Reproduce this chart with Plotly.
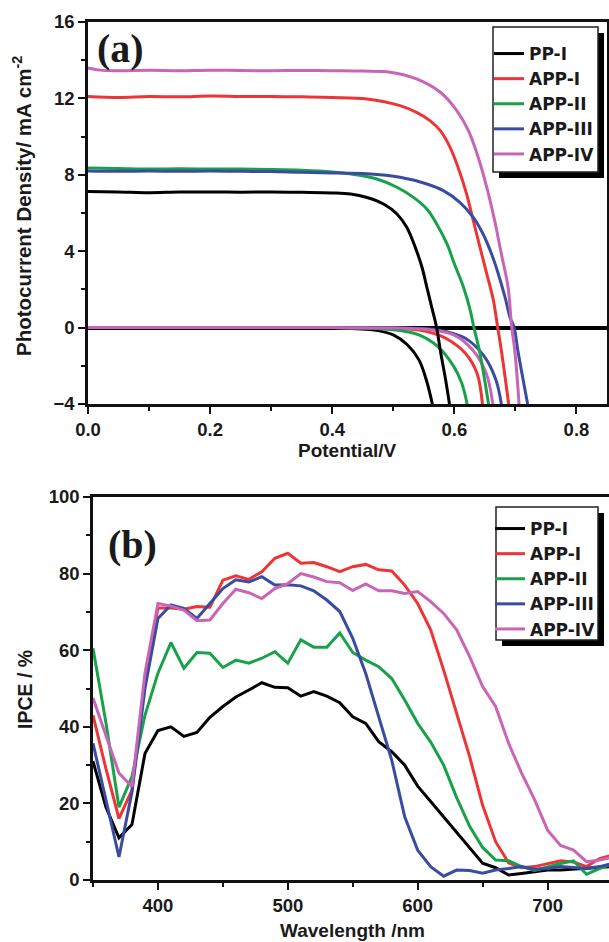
import plotly.graph_objects as go

W, H = 609, 942

names = ["PP-I", "APP-I", "APP-II", "APP-III", "APP-IV"]
colors = ["#000000", "#ee3535", "#17a24a", "#3a4ba2", "#c965b6"]

# ---------- (a) J-V curves: illuminated ----------
v_light_pp1 = [0, 0.05, 0.10, 0.15, 0.20, 0.25, 0.30, 0.35, 0.40, 0.43, 0.457, 0.484, 0.506, 0.522, 0.536, 0.547, 0.555, 0.563, 0.571, 0.577, 0.585, 0.592]
j_light_pp1 = [7.12, 7.10, 7.06, 7.10, 7.10, 7.09, 7.10, 7.08, 7.05, 6.99, 6.81, 6.47, 5.95, 5.25, 4.2, 3.16, 2.11, 1.06, 0.0, -1.2, -2.6, -4.0]

v_light_app1 = [0, 0.05, 0.10, 0.15, 0.20, 0.25, 0.30, 0.35, 0.40, 0.457, 0.511, 0.538, 0.56, 0.577, 0.593, 0.606, 0.62, 0.631, 0.642, 0.653, 0.664, 0.671, 0.677, 0.689]
j_light_app1 = [12.1, 12.05, 12.1, 12.08, 12.12, 12.1, 12.1, 12.08, 12.05, 11.97, 11.62, 11.27, 10.84, 10.31, 9.44, 8.4, 7.0, 5.6, 4.2, 2.83, 1.41, 0.0, -1.2, -4.0]

v_light_app2 = [0, 0.05, 0.10, 0.15, 0.20, 0.25, 0.30, 0.35, 0.40, 0.429, 0.473, 0.506, 0.533, 0.555, 0.571, 0.588, 0.60, 0.615, 0.626, 0.632, 0.641, 0.656]
j_light_app2 = [8.35, 8.33, 8.3, 8.32, 8.3, 8.3, 8.28, 8.24, 8.15, 8.05, 7.78, 7.35, 6.82, 6.21, 5.43, 4.38, 3.34, 2.11, 0.9, 0.0, -1.2, -4.0]

v_light_app3 = [0, 0.05, 0.10, 0.15, 0.20, 0.25, 0.30, 0.35, 0.40, 0.457, 0.511, 0.555, 0.582, 0.609, 0.631, 0.647, 0.661, 0.672, 0.683, 0.691, 0.698, 0.704, 0.72]
j_light_app3 = [8.2, 8.18, 8.2, 8.18, 8.2, 8.18, 8.17, 8.13, 8.1, 8.05, 7.87, 7.52, 7.17, 6.56, 5.77, 4.9, 3.85, 2.81, 1.59, 0.55, 0.0, -1.2, -4.0]

v_light_app4 = [0, 0.02, 0.05, 0.10, 0.15, 0.20, 0.25, 0.30, 0.35, 0.40, 0.45, 0.495, 0.538, 0.577, 0.604, 0.623, 0.639, 0.653, 0.666, 0.677, 0.688, 0.694, 0.699, 0.706]
j_light_app4 = [13.6, 13.48, 13.45, 13.47, 13.45, 13.48, 13.46, 13.45, 13.46, 13.45, 13.43, 13.37, 13.02, 12.32, 11.36, 10.31, 8.92, 7.35, 5.6, 3.86, 2.11, 0.0, -1.2, -4.0]

# ---------- (a) J-V curves: dark ----------
v_dark_pp1 = [0, 0.1, 0.2, 0.3, 0.4, 0.43, 0.466, 0.5, 0.523, 0.542, 0.554, 0.564]
j_dark_pp1 = [0, 0, 0, 0, -0.02, -0.05, -0.12, -0.38, -0.9, -1.69, -2.73, -4.0]

v_dark_app1 = [0, 0.1, 0.2, 0.3, 0.4, 0.48, 0.542, 0.566, 0.586, 0.618, 0.637, 0.646]
j_dark_app1 = [0, 0, 0, 0, 0, -0.02, -0.12, -0.3, -0.56, -1.34, -2.38, -4.0]

v_dark_app2 = [0, 0.1, 0.2, 0.3, 0.4, 0.45, 0.491, 0.52, 0.542, 0.573, 0.599, 0.612, 0.621]
j_dark_app2 = [0, 0, 0, 0, 0, -0.02, -0.09, -0.2, -0.38, -0.99, -2.03, -2.9, -4.0]

v_dark_app3 = [0, 0.1, 0.2, 0.3, 0.4, 0.52, 0.573, 0.618, 0.649, 0.668, 0.677]
j_dark_app3 = [0, 0, 0, 0, 0, -0.02, -0.12, -0.56, -1.51, -2.73, -4.0]

v_dark_app4 = [0, 0.1, 0.2, 0.3, 0.4, 0.5, 0.554, 0.599, 0.63, 0.652, 0.663]
j_dark_app4 = [0, 0, 0, 0, 0, -0.02, -0.09, -0.38, -1.17, -2.38, -4.0]

# ---------- (b) IPCE ----------
wavelength = list(range(350, 751, 10))
ipce_pp1 = [31, 19, 11, 14.5, 33, 39, 40, 37.5, 38.5, 42.5, 45.3, 47.8, 49.6, 51.5, 50.3, 50.2, 48, 49.2, 48, 46.3,
            42.6, 40.9, 36.1, 33.5, 30, 24.5, 20.5, 16.4, 12.3, 8.3, 4.4, 3.2, 1.3, 1.7, 2.2, 2.6, 2.6, 2.8, 3.0, 3.3, 3.5]
ipce_app1 = [43, 29, 16, 23.5, 52, 71, 71, 70.7, 71.4, 71.2, 78.3, 79.4, 78.5, 80.5, 84, 85.3, 82.7, 82.9, 81.8, 80.5,
             81.8, 82.4, 81, 80.7, 77, 72.2, 65.3, 54.8, 43.5, 32.2, 19.5, 10, 4.5, 3.2, 3.5, 4.2, 5, 4.7, 3.5, 5.6, 6.5]
ipce_app2 = [60.5, 41, 19, 27, 43, 54, 62, 55.3, 59.4, 59.2, 55.5, 57.4, 56.6, 57.9, 59.6, 56.6, 62.7, 60.8, 60.8, 64.5,
             59.4, 57.4, 55.7, 52.6, 47, 40.9, 36, 30, 21.5, 14, 8.5, 5.2, 5, 3.5, 2.5, 3.5, 4.3, 5, 1.5, 3, 4.3]
ipce_app3 = [35.7, 21, 6, 23, 50, 68.3, 71.8, 70.9, 68.3, 72.2, 76.1, 78.4, 77.8, 79.2, 77, 77.1, 76.8, 75.5, 73.1, 70.1,
             63.1, 53.9, 42.6, 31.3, 16.5, 7.8, 3.5, 1, 2.6, 2.5, 1.8, 2.6, 3, 3.5, 2.8, 3, 3.5, 3.2, 3, 3.5, 4.3]
ipce_app4 = [47.5, 37.5, 27.9, 24.4, 54, 72.2, 71.5, 70.5, 67.7, 67.9, 72.2, 75.9, 75, 73.5, 76.1, 77.4, 80, 79.1, 77.9, 77.6,
             75.6, 77.3, 75.5, 75.5, 74.8, 75.3, 72.7, 69.6, 65.3, 58.3, 50.5, 45.3, 35.7, 27.9, 21, 13, 9, 7.8, 4.8, 5.2, 6]

light_v = [v_light_pp1, v_light_app1, v_light_app2, v_light_app3, v_light_app4]
light_j = [j_light_pp1, j_light_app1, j_light_app2, j_light_app3, j_light_app4]
dark_v = [v_dark_pp1, v_dark_app1, v_dark_app2, v_dark_app3, v_dark_app4]
dark_j = [j_dark_pp1, j_dark_app1, j_dark_app2, j_dark_app3, j_dark_app4]
ipce = [ipce_pp1, ipce_app1, ipce_app2, ipce_app3, ipce_app4]

FONT = "Liberation Sans, Arial, sans-serif"
LEGFONT = "DejaVu Sans, Liberation Sans, sans-serif"
TXT = "#1a1a1a"
LW = 3

fig = go.Figure()
for i, n in enumerate(names):
    fig.add_trace(go.Scatter(x=dark_v[i], y=dark_j[i], mode="lines", line=dict(color=colors[i], width=LW),
                             xaxis="x", yaxis="y", showlegend=False, legendgroup=n, line_shape="spline"))
for i, n in enumerate(names):
    fig.add_trace(go.Scatter(x=light_v[i], y=light_j[i], mode="lines", name=n, line=dict(color=colors[i], width=LW),
                             xaxis="x", yaxis="y", legend="legend", legendgroup=n, line_shape="spline"))
for i, n in enumerate(names):
    fig.add_trace(go.Scatter(x=wavelength, y=ipce[i], mode="lines", name=n, line=dict(color=colors[i], width=LW),
                             xaxis="x2", yaxis="y2", legend="legend2"))


def px_x(p):
    return p / W


def px_y(p):
    return 1 - p / H


tickfont = dict(family=FONT, size=18.5, color=TXT, weight="bold")
axis_common = dict(showline=True, linecolor="#111", linewidth=2.5, ticks="outside", ticklen=7, tickwidth=2,
                   tickcolor="#111", showgrid=False, tickfont=tickfont, automargin=False)

legend_common = dict(font=dict(family=LEGFONT, size=17, color=TXT, weight="bold"), bgcolor="rgba(0,0,0,0)",
                     borderwidth=0, xanchor="left", yanchor="top", tracegroupgap=0, itemwidth=30)

fig.update_layout(
    width=W, height=H, autosize=False,
    margin=dict(l=0, r=0, t=0, b=0),
    paper_bgcolor="white", plot_bgcolor="white",
    showlegend=True,
    xaxis=dict(domain=[px_x(88), px_x(607)], range=[0, 0.85], dtick=0.2, tick0=0, tickformat=".1f",
               mirror=True, anchor="y", zeroline=False,
               minor=dict(dtick=0.1, ticklen=4, tickwidth=2, tickcolor="#111", ticks="outside"), **axis_common),
    yaxis=dict(domain=[px_y(404), px_y(22)], range=[-4, 16], dtick=4, tick0=0, mirror=True, anchor="x",
               zeroline=True, zerolinecolor="#000", zerolinewidth=3.5,
               minor=dict(dtick=2, ticklen=4, tickwidth=2, tickcolor="#111", ticks="outside"), **axis_common),
    xaxis2=dict(domain=[px_x(93), 1.0], range=[350, 747.3], dtick=100, tick0=0, mirror=True, anchor="y2",
                zeroline=False,
                minor=dict(dtick=50, ticklen=4, tickwidth=2, tickcolor="#111", ticks="outside"), **axis_common),
    yaxis2=dict(domain=[px_y(880), px_y(497)], range=[0, 100], dtick=20, tick0=0, mirror=False, anchor="x2",
                zeroline=False,
                minor=dict(dtick=10, ticklen=4, tickwidth=2, tickcolor="#111", ticks="outside"), **axis_common),
    legend=dict(x=px_x(489), y=px_y(36), **legend_common),
    legend2=dict(x=px_x(490), y=px_y(511), **legend_common),
)

# legend frames with drop shadows
boxes = [(493, 27, 598, 172), (496, 507, 598, 640)]
for (x0, y0, x1, y1) in boxes:
    fig.add_shape(type="rect", xref="paper", yref="paper", x0=px_x(x0 + 6), x1=px_x(x1 + 6),
                  y0=px_y(y1 + 6), y1=px_y(y0 + 6), fillcolor="#000", line=dict(width=0), layer="above")
    fig.add_shape(type="rect", xref="paper", yref="paper", x0=px_x(x0), x1=px_x(x1),
                  y0=px_y(y1), y1=px_y(y0), fillcolor="white", line=dict(width=1.5, color="#222"), layer="above")

ann = [
    dict(text="Potential/V", x=px_x(347), y=px_y(450), textangle=0, size=19),
    dict(text="Photocurrent Density/ mA cm<sup>-2</sup>", x=px_x(22), y=px_y(206), textangle=-90, size=20.5),
    dict(text="Wavelength /nm", x=px_x(352), y=px_y(930), textangle=0, size=19),
    dict(text="IPCE / %", x=px_x(25), y=px_y(690), textangle=-90, size=19.5),
]
for a in ann:
    size = a.pop("size")
    fig.add_annotation(xref="paper", yref="paper", showarrow=False, xanchor="center", yanchor="middle",
                       font=dict(family=FONT, size=size, color=TXT, weight="bold"), **a)

panel_font = dict(family="Liberation Serif, Times New Roman, serif", size=40, color=TXT, weight="bold")
fig.add_annotation(text="(a)", xref="paper", yref="paper", x=px_x(120), y=px_y(49), showarrow=False,
                   xanchor="center", yanchor="middle", font=panel_font)
fig.add_annotation(text="(b)", xref="paper", yref="paper", x=px_x(132), y=px_y(544), showarrow=False,
                   xanchor="center", yanchor="middle", font=panel_font)

fig.write_html("out.html")
